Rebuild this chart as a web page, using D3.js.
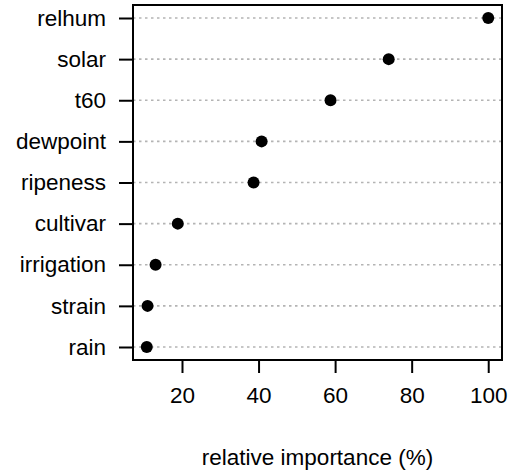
<!DOCTYPE html>
<html>
<head>
<meta charset="utf-8">
<script src="https://cdn.jsdelivr.net/npm/d3@7"></script>
<style>
  body { margin: 0; background: #fff; }
  svg text { font-family: "Liberation Sans", Arial, sans-serif; fill: #000; }
</style>
</head>
<body>
<svg width="514" height="475"></svg>
<script>
const variables = ['relhum', 'solar', 't60', 'dewpoint', 'ripeness', 'cultivar', 'irrigation', 'strain', 'rain'];
const importance = [100, 74.0, 58.8, 40.8, 38.7, 18.9, 13.1, 11.0, 10.8];
const xTicks = [20, 40, 60, 80, 100];
const xTitle = 'relative importance (%)';

const data = variables.map((v, i) => ({ name: v, value: importance[i] }));

const width = 514;
const height = 475;
const margin = { top: 5, right: 12, bottom: 115, left: 133 };
const fontSize = 22.5;

const svg = d3.select('svg');

const xScale = d3.scaleLinear([7.2, 103.6], [margin.left, width - margin.right]);
const yScale = d3.scalePoint(variables, [18, 347]);

// dotted guide lines
svg.append('g')
  .selectAll('line')
  .data(data)
  .join('line')
    .attr('x1', margin.left)
    .attr('x2', width - margin.right)
    .attr('y1', (d) => yScale(d.name))
    .attr('y2', (d) => yScale(d.name))
    .attr('stroke', '#b4b4b4')
    .attr('stroke-width', 1.6)
    .attr('stroke-dasharray', '2.5,3.5');

svg.append('g')
  .selectAll('circle')
  .data(data)
  .join('circle')
    .attr('cx', (d) => xScale(d.value))
    .attr('cy', (d) => yScale(d.name))
    .attr('r', 6)
    .attr('fill', '#000');

// plot box
svg.append('rect')
  .attr('x', margin.left)
  .attr('y', margin.top)
  .attr('width', width - margin.right - margin.left)
  .attr('height', height - margin.bottom - margin.top)
  .attr('fill', 'none')
  .attr('stroke', '#000')
  .attr('stroke-width', 2);

const xAxis = d3.axisBottom(xScale)
  .tickValues(xTicks)
  .tickSize(13)
  .tickPadding(14)
  .tickSizeOuter(0);

const gx = svg.append('g')
  .attr('transform', `translate(0, ${height - margin.bottom})`)
  .call(xAxis);
gx.select('.domain').remove();
gx.selectAll('line').attr('stroke-width', 2);
gx.selectAll('text')
  .style('font-size', `${fontSize}px`)
  .style('font-family', '"Liberation Sans", Arial, sans-serif');

const yAxis = d3.axisLeft(yScale)
  .tickSize(14)
  .tickPadding(13)
  .tickSizeOuter(0);

const gy = svg.append('g')
  .attr('transform', `translate(${margin.left}, 0)`)
  .call(yAxis);
gy.select('.domain').remove();
gy.selectAll('line').attr('stroke-width', 2);
gy.selectAll('text')
  .style('font-size', `${fontSize}px`)
  .style('font-family', '"Liberation Sans", Arial, sans-serif');

svg.append('text')
  .text(xTitle)
  .attr('x', (margin.left + width - margin.right) / 2)
  .attr('y', 465)
  .attr('text-anchor', 'middle')
  .style('font-size', `${fontSize}px`);
</script>
</body>
</html>
